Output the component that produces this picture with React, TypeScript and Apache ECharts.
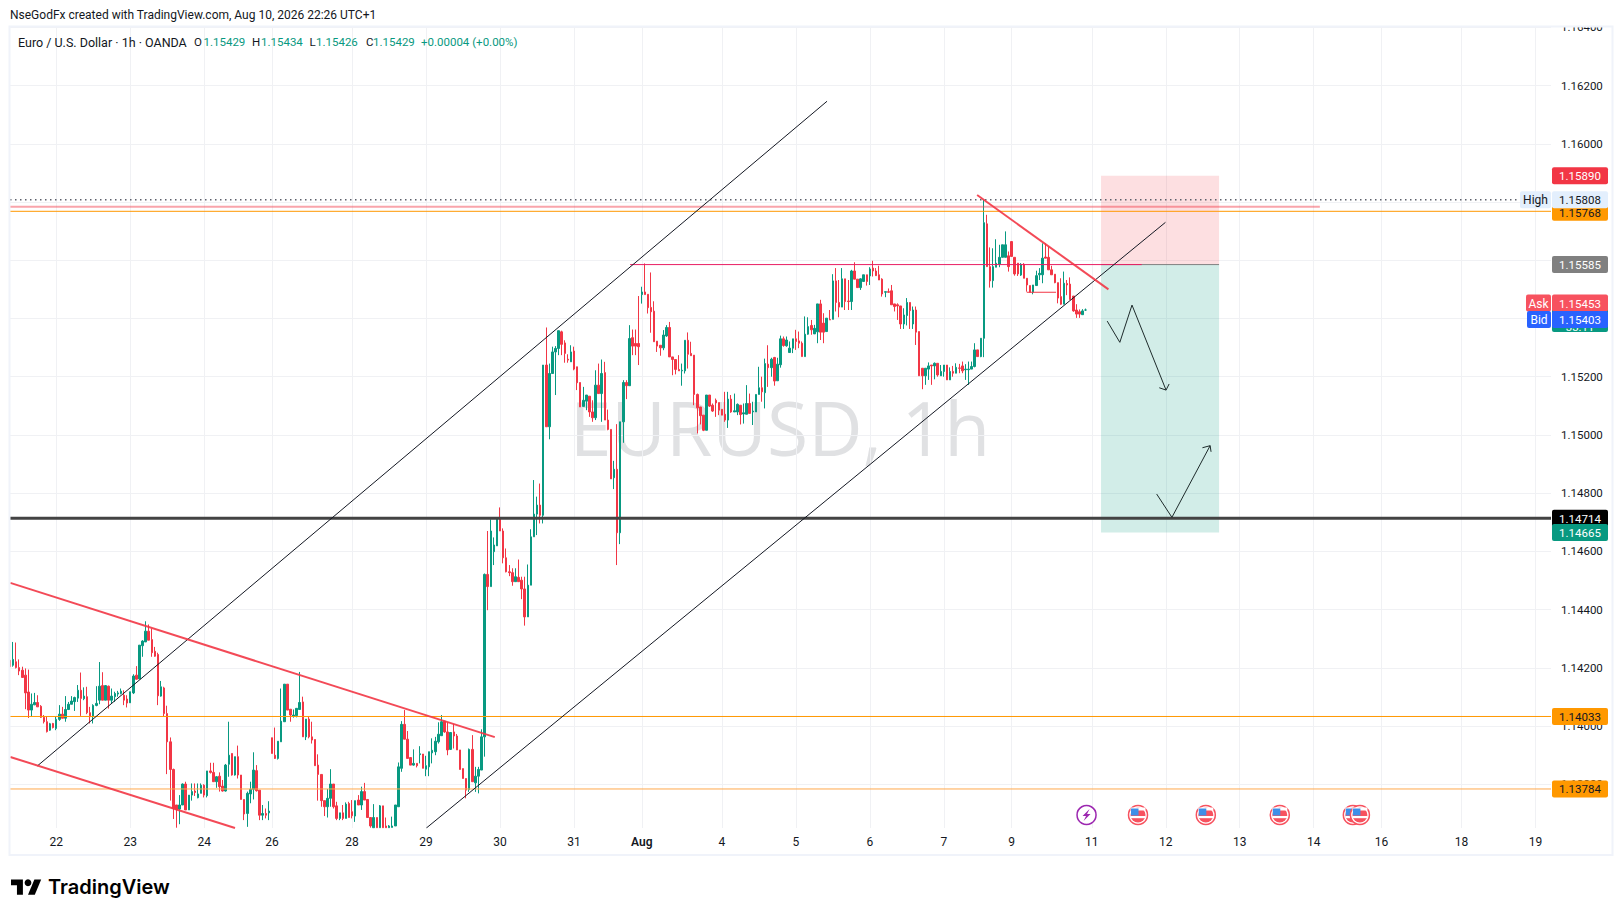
import React, { useEffect, useRef } from "react";
import * as echarts from "echarts";

const headerText = "NseGodFx created with TradingView.com, Aug 10, 2026 22:26 UTC+1";
const legendTitle = "Euro / U.S. Dollar · 1h · OANDA";
const legendItems = [
  { t: "O", x: 194, c: "#131722" }, { t: "1.15429", x: 203.5, c: "#089981" },
  { t: "H", x: 252, c: "#131722" }, { t: "1.15434", x: 261, c: "#089981" },
  { t: "L", x: 309.5, c: "#131722" }, { t: "1.15426", x: 316, c: "#089981" },
  { t: "C", x: 366, c: "#131722" }, { t: "1.15429", x: 373, c: "#089981" },
  { t: "+0.00004 (+0.00%)", x: 421, c: "#089981" },
];
const tickIndexes = [15, 39, 63, 85, 111, 135, 159, 183, 205, 231, 255, 279, 303, 325, 351, 375, 399, 423, 445, 471, 495];
const tickLabels = ["22", "23", "24", "26", "28", "29", "30", "31", "Aug", "4", "5", "6", "7", "9", "11", "12", "13", "14", "16", "18", "19"];
const priceTicks = [1.138, 1.14, 1.142, 1.144, 1.146, 1.148, 1.15, 1.152, 1.154, 1.156, 1.158, 1.16, 1.162, 1.164];

// open, high, low, close of each hourly candle
const candles = [
[1.14226,1.14263,1.14183,1.14204],[1.14209,1.14289,1.14204,1.14229],[1.14221,1.14287,1.14198,1.14201],[1.14201,1.14229,1.14175,1.14189],
[1.14192,1.14204,1.14167,1.14167],[1.14175,1.14198,1.14058,1.14114],[1.14117,1.14194,1.14028,1.14055],[1.14055,1.14112,1.14032,1.14075],
[1.14073,1.14114,1.14072,1.14081],[1.14081,1.14106,1.14066,1.14066],[1.14068,1.14072,1.14028,1.1403],[1.1403,1.14038,1.14009,1.14015],
[1.14015,1.14034,1.13978,1.13981],[1.13986,1.14011,1.13984,1.14008],[1.14009,1.14011,1.13992,1.13995],[1.13992,1.14032,1.13986,1.14023],
[1.14023,1.14072,1.14018,1.14041],[1.14041,1.14066,1.14027,1.14027],[1.14027,1.14103,1.14015,1.14057],[1.14057,1.14083,1.14055,1.14075],
[1.14075,1.14103,1.14075,1.14086],[1.14084,1.14101,1.14052,1.14098],[1.14096,1.14141,1.14083,1.14123],[1.14123,1.14184,1.14035,1.14095],
[1.14094,1.14133,1.14089,1.14103],[1.14101,1.14135,1.14041,1.14046],[1.14046,1.14066,1.14009,1.14032],[1.14032,1.14075,1.14009,1.14071],
[1.14071,1.14137,1.14068,1.14078],[1.14089,1.1422,1.14075,1.14137],[1.14139,1.14185,1.14089,1.14089],[1.14089,1.14141,1.14089,1.14139],
[1.14137,1.14139,1.1406,1.14089],[1.14089,1.14129,1.14078,1.14103],[1.14101,1.14118,1.14083,1.14112],[1.1411,1.14121,1.14101,1.14114],
[1.14112,1.14129,1.14109,1.1412],[1.14106,1.14123,1.14072,1.14089],[1.14093,1.14106,1.14064,1.14079],[1.1408,1.14118,1.1408,1.14118],
[1.14114,1.14178,1.1411,1.14172],[1.14175,1.14206,1.1416,1.14161],[1.14162,1.14278,1.14162,1.14278],[1.14276,1.14295,1.14238,1.14292],
[1.14289,1.1436,1.14289,1.14326],[1.14326,1.14349,1.14295,1.14295],[1.14297,1.14335,1.14238,1.14252],[1.14257,1.14272,1.14238,1.1424],
[1.14246,1.14252,1.14072,1.14104],[1.14103,1.14155,1.14101,1.14135],[1.14131,1.14135,1.14032,1.14043],[1.14043,1.1407,1.13835,1.13946],
[1.13946,1.13961,1.13744,1.13851],[1.13851,1.13854,1.13681,1.13717],[1.13729,1.13729,1.13651,1.13714],[1.13715,1.13763,1.13663,1.13729],
[1.13729,1.13803,1.13729,1.13801],[1.13801,1.13809,1.13712,1.13712],[1.13712,1.13763,1.13712,1.13763],[1.13763,1.13803,1.13744,1.13775],
[1.13777,1.13803,1.1376,1.13772],[1.13754,1.13803,1.13752,1.13767],[1.13769,1.13803,1.13769,1.13797],[1.13797,1.1380,1.13755,1.13763],
[1.13761,1.13846,1.13755,1.13846],[1.13846,1.13874,1.13837,1.13841],[1.13841,1.13874,1.13808,1.13809],[1.13809,1.13828,1.13788,1.13826],
[1.13828,1.13841,1.13775,1.13792],[1.13794,1.13815,1.13775,1.13777],[1.13777,1.1387,1.13775,1.13866],[1.13869,1.14015,1.13826,1.139],
[1.13906,1.13906,1.1383,1.13832],[1.13832,1.13895,1.1383,1.13895],[1.13895,1.13933,1.1382,1.13832],[1.13832,1.13832,1.13748,1.13748],
[1.13748,1.13748,1.13677,1.13698],[1.137,1.13775,1.13654,1.13769],[1.13767,1.13809,1.13735,1.13783],[1.13783,1.1391,1.13748,1.13849],
[1.13847,1.13866,1.13775,1.13778],[1.1378,1.1378,1.13677,1.13694],[1.13694,1.13729,1.13677,1.137],[1.137,1.13717,1.13683,1.13694],
[1.13702,1.13742,1.13677,1.13708],[1.1396,1.1396,1.13906,1.13906],[1.139,1.13995,1.13887,1.13889],[1.13889,1.13948,1.13885,1.13948],
[1.13946,1.14129,1.13946,1.14017],[1.14015,1.14144,1.14015,1.14144],[1.14144,1.14144,1.14055,1.14055],[1.14058,1.14058,1.14015,1.14038],
[1.14034,1.14057,1.14029,1.14038],[1.14036,1.14061,1.1403,1.14061],[1.14057,1.14186,1.14057,1.14081],[1.14083,1.14101,1.13963,1.13963],
[1.13963,1.14024,1.13952,1.14024],[1.14024,1.14032,1.13958,1.13963],[1.13963,1.14015,1.1394,1.13952],[1.13954,1.13954,1.13864,1.13864],
[1.13866,1.13903,1.13744,1.13834],[1.13834,1.13834,1.13723,1.13744],[1.13744,1.13744,1.13691,1.13723],[1.13723,1.13784,1.13686,1.13752],
[1.13752,1.13852,1.13723,1.13801],[1.13801,1.13801,1.13717,1.13723],[1.13726,1.1374,1.13677,1.13683],[1.13683,1.13702,1.13677,1.13702],
[1.13702,1.13729,1.13677,1.13683],[1.13683,1.13738,1.13683,1.13732],[1.13734,1.1374,1.13686,1.13686],[1.13706,1.13746,1.13683,1.13692],
[1.13691,1.13744,1.13671,1.13744],[1.13746,1.13763,1.13729,1.13729],[1.13729,1.13792,1.13712,1.13775],[1.13775,1.13805,1.13746,1.13746],
[1.13748,1.13748,1.13686,1.13686],[1.13686,1.13686,1.13651,1.13657],[1.13651,1.13732,1.13651,1.13686],[1.13686,1.13686,1.13651,1.13651],
[1.13651,1.13729,1.13651,1.13726],[1.13726,1.13726,1.13651,1.13651],[1.13657,1.13686,1.13651,1.13651],[1.13651,1.1366,1.13651,1.13657],
[1.13652,1.13689,1.13652,1.13657],[1.13657,1.13729,1.13657,1.13729],[1.13723,1.13875,1.13723,1.1386],[1.13855,1.14017,1.13843,1.14006],
[1.14006,1.14055,1.13955,1.13955],[1.13955,1.13983,1.13889,1.13889],[1.13892,1.13892,1.13866,1.13866],[1.13866,1.1392,1.13864,1.13872],
[1.13872,1.13872,1.13858,1.13864],[1.13902,1.13931,1.13872,1.13905],[1.13904,1.13904,1.13855,1.13855],[1.13852,1.13898,1.13828,1.13864],
[1.1386,1.13912,1.13828,1.13912],[1.13908,1.13958,1.13872,1.13917],[1.13912,1.13963,1.139,1.13948],[1.13946,1.14013,1.1394,1.13972],
[1.13967,1.14038,1.13967,1.14015],[1.14017,1.14018,1.13977,1.1398],[1.1398,1.14013,1.139,1.13918],[1.1392,1.13978,1.13918,1.13978],
[1.1398,1.14007,1.13923,1.13966],[1.13966,1.13973,1.13918,1.13918],[1.13918,1.13918,1.13851,1.13851],[1.13854,1.13854,1.1382,1.1382],
[1.1382,1.1382,1.13752,1.1378],[1.13782,1.13923,1.13774,1.1392],[1.1392,1.13969,1.13809,1.13809],[1.13805,1.1386,1.13774,1.13828],
[1.13828,1.1386,1.13769,1.13851],[1.13849,1.13989,1.13849,1.13963],[1.13963,1.14524,1.13895,1.14521],[1.14521,1.1467,1.14398,1.14479],
[1.14479,1.1471,1.14479,1.1467],[1.14599,1.14648,1.14553,1.14622],[1.14619,1.14716,1.14619,1.14716],[1.14716,1.14751,1.1467,1.1467],
[1.1467,1.14679,1.14559,1.14578],[1.14578,1.1461,1.14528,1.1453],[1.1453,1.14553,1.14515,1.14527],[1.14527,1.14542,1.14482,1.14496],
[1.14496,1.14542,1.14496,1.14513],[1.14511,1.14572,1.14496,1.14496],[1.14501,1.14513,1.14436,1.14471],[1.14471,1.14513,1.14345,1.14375],
[1.14375,1.14555,1.14375,1.14484],[1.14484,1.14676,1.14484,1.1465],[1.1465,1.14845,1.1465,1.14728],[1.14728,1.14788,1.14656,1.14759],
[1.14759,1.14833,1.14696,1.14724],[1.14724,1.1524,1.14696,1.1524],[1.1524,1.15369,1.15028,1.15028],[1.15028,1.15245,1.14985,1.15211],
[1.15211,1.15303,1.15211,1.15285],[1.15285,1.15305,1.15137,1.15297],[1.15297,1.15358,1.15274,1.15358],[1.15354,1.15358,1.15274,1.15311],
[1.15316,1.15325,1.15248,1.1528],[1.1526,1.15277,1.15248,1.15257],[1.15251,1.15308,1.15251,1.15285],[1.15288,1.15303,1.15222,1.15226],
[1.15234,1.15234,1.15154,1.15179],[1.1518,1.1518,1.15096,1.15096],[1.15098,1.15165,1.15098,1.15119],[1.15116,1.15137,1.15085,1.15137],
[1.15133,1.15133,1.15062,1.15079],[1.15079,1.15119,1.15045,1.15059],[1.15059,1.15222,1.15051,1.15171],[1.15171,1.15245,1.15142,1.15142],
[1.15142,1.15259,1.15045,1.15211],[1.15214,1.15251,1.15051,1.15051],[1.15051,1.15087,1.15016,1.15019],[1.15019,1.15019,1.14849,1.14849],
[1.14853,1.14911,1.14814,1.14882],[1.14882,1.15037,1.14553,1.14664],[1.14664,1.15045,1.14625,1.15045],[1.15045,1.15188,1.14973,1.1518],
[1.1518,1.15188,1.15123,1.15169],[1.15169,1.15377,1.15169,1.15331],[1.15334,1.15362,1.15274,1.15305],[1.15314,1.15362,1.15274,1.15305],
[1.15314,1.15477,1.1524,1.15303],[1.15482,1.15509,1.15451,1.15491],[1.15491,1.15589,1.15482,1.15482],[1.15483,1.15483,1.15417,1.15437],
[1.15438,1.15558,1.15351,1.15423],[1.15425,1.15459,1.1532,1.1532],[1.15322,1.15322,1.15285,1.15305],[1.15308,1.15308,1.15272,1.15299],
[1.15299,1.1536,1.15291,1.15343],[1.1534,1.15377,1.15337,1.15369],[1.15369,1.15388,1.15268,1.15268],[1.15268,1.15268,1.15205,1.15259],
[1.15259,1.15259,1.15208,1.15225],[1.15225,1.15274,1.1522,1.1522],[1.1522,1.15245,1.15169,1.15222],[1.1522,1.15325,1.15211,1.15325],
[1.15325,1.15352,1.15228,1.15277],[1.1528,1.1532,1.15272,1.15272],[1.15274,1.15274,1.15102,1.15139],[1.15139,1.15142,1.15005,1.15093],
[1.15096,1.15096,1.15036,1.15066],[1.15068,1.15068,1.15013,1.15016],[1.15016,1.15137,1.15016,1.15137],[1.15137,1.15137,1.15096,1.15099],
[1.15102,1.15108,1.15079,1.15082],[1.15119,1.15125,1.15062,1.1511],[1.15111,1.15111,1.15068,1.15085],[1.15088,1.15088,1.15068,1.15068],
[1.15071,1.15148,1.15045,1.15051],[1.15051,1.15148,1.15024,1.15123],[1.15123,1.15137,1.15076,1.15079],[1.15079,1.15142,1.15079,1.15083],
[1.15079,1.15108,1.15068,1.15105],[1.15102,1.15102,1.15036,1.1507],[1.15072,1.15108,1.15039,1.15076],[1.15071,1.15171,1.15071,1.15108],
[1.15108,1.15142,1.15074,1.15074],[1.15079,1.15114,1.15034,1.15082],[1.15079,1.15139,1.15079,1.15139],[1.15139,1.15234,1.15139,1.15162],
[1.15162,1.152,1.15114,1.15148],[1.15145,1.15262,1.15091,1.15245],[1.15243,1.15308,1.15165,1.15231],[1.15231,1.15265,1.152,1.1526],
[1.15266,1.15268,1.15169,1.15185],[1.15186,1.15265,1.15186,1.15243],[1.15241,1.15341,1.15231,1.1533],[1.1533,1.15338,1.15303,1.15307],
[1.15306,1.15338,1.15303,1.15326],[1.15283,1.15321,1.15283,1.15298],[1.15298,1.1533,1.15281,1.1533],[1.1533,1.15361,1.15292,1.15321],
[1.15323,1.15355,1.15298,1.15315],[1.15315,1.15321,1.15269,1.15269],[1.15269,1.15407,1.15269,1.15346],[1.15346,1.15404,1.15344,1.15372],
[1.15376,1.15395,1.15344,1.15361],[1.15347,1.15378,1.15347,1.15366],[1.15354,1.1545,1.15315,1.1545],[1.1545,1.15464,1.15326,1.15353],
[1.15384,1.15418,1.15315,1.15353],[1.15355,1.15401,1.15355,1.15401],[1.15396,1.15429,1.15395,1.15395],[1.15397,1.15552,1.15397,1.15529],
[1.15529,1.15573,1.15424,1.15455],[1.15455,1.15532,1.15404,1.15439],[1.15439,1.15573,1.15439,1.15536],[1.15536,1.15536,1.15429,1.15458],
[1.1546,1.15532,1.15429,1.15458],[1.15458,1.15567,1.15429,1.15563],[1.15563,1.15593,1.15535,1.15535],[1.15535,1.15535,1.15506,1.15506],
[1.15506,1.15538,1.15498,1.15536],[1.15527,1.1555,1.15527,1.1555],[1.1555,1.1555,1.15513,1.15527],[1.15546,1.15576,1.15515,1.1557],
[1.15573,1.15598,1.15544,1.15563],[1.15563,1.15573,1.15546,1.15547],[1.1555,1.15581,1.15532,1.15532],[1.15535,1.15538,1.15475,1.15484],
[1.1549,1.15492,1.15473,1.15492],[1.15492,1.15503,1.15488,1.1549],[1.15495,1.15515,1.15447,1.15447],[1.1545,1.1545,1.15424,1.15441],
[1.15447,1.15452,1.15395,1.15443],[1.15443,1.15443,1.15364,1.15381],[1.15381,1.15435,1.15364,1.15412],[1.1541,1.1547,1.15376,1.15455],
[1.15455,1.15455,1.15364,1.15427],[1.15381,1.15441,1.15364,1.15429],[1.15429,1.15441,1.15309,1.15353],[1.15355,1.15355,1.15203,1.15203],
[1.15229,1.15229,1.15157,1.15203],[1.15203,1.15229,1.15172,1.15229],[1.15226,1.15249,1.15189,1.15237],[1.1524,1.1524,1.15172,1.15237],
[1.15237,1.15249,1.15191,1.15246],[1.15246,1.15246,1.152,1.15206],[1.15203,1.1524,1.15203,1.15218],[1.15218,1.1524,1.152,1.1524],
[1.1524,1.1524,1.15189,1.15189],[1.15189,1.15232,1.15189,1.15218],[1.15218,1.15237,1.152,1.15212],[1.15212,1.15246,1.15212,1.15232],
[1.1523,1.15244,1.15212,1.15229],[1.15237,1.15252,1.15212,1.1522],[1.15224,1.15243,1.15189,1.15226],[1.15224,1.15252,1.15172,1.15226],
[1.15226,1.15252,1.15226,1.15235],[1.15235,1.15315,1.15232,1.15292],[1.15292,1.15292,1.15269,1.15269],[1.15269,1.15332,1.15267,1.15332],
[1.15332,1.15807,1.15267,1.15729],[1.15725,1.15756,1.15578,1.15578],[1.15578,1.15644,1.15506,1.15529],[1.1553,1.15641,1.15506,1.15578],
[1.15576,1.15672,1.15576,1.1559],[1.15587,1.15653,1.15576,1.1561],[1.1561,1.15653,1.1561,1.15653],[1.1561,1.15699,1.1561,1.15653],
[1.15615,1.1563,1.15561,1.15578],[1.15664,1.15666,1.15613,1.15613],[1.1561,1.1561,1.15547,1.15553],[1.1559,1.1559,1.15546,1.15553],
[1.15549,1.1559,1.15546,1.15586],[1.15586,1.1559,1.15538,1.15538],[1.15538,1.15538,1.15492,1.15515],[1.15513,1.15513,1.1549,1.1549],
[1.1549,1.15515,1.15483,1.15515],[1.15513,1.15564,1.15513,1.15547],[1.1555,1.15573,1.15532,1.15555],[1.1555,1.15658,1.15521,1.15607],
[1.15611,1.15658,1.15607,1.15607],[1.1561,1.15647,1.15567,1.15567],[1.15567,1.15581,1.1555,1.1555],[1.15552,1.15552,1.15521,1.15523],
[1.15523,1.15523,1.15452,1.1547],[1.15475,1.15538,1.15447,1.15449],[1.15449,1.15561,1.15449,1.15521],[1.1552,1.15532,1.1548,1.15515],
[1.15518,1.15541,1.15465,1.15465],[1.15477,1.15477,1.15423,1.15426],[1.15429,1.15449,1.15402,1.15415],[1.15423,1.15431,1.15402,1.15415],
[1.15413,1.15432,1.15413,1.15426],[1.15429,1.15434,1.15426,1.15429],
];

// Drawings, in candle index and price
const highLine = [[0, 1.15808], [489.6, 1.15808]];
const pinkZone = [[0, 1.15784], [425, 1.15784]];
const resistance = [[0, 1.15768], [500, 1.15768]];
const entryLine = [[201.2, 1.15585], [367.2, 1.15585]];
const blackLevel = [[0, 1.14714], [500, 1.14714]];
const support1 = [[0, 1.14033], [500, 1.14033]];
const support2 = [[0, 1.13784], [500, 1.13784]];
const channelUpper = [[8.86, 1.13863], [265.1, 1.16146]];
const channelLower = [[135.1, 1.1365], [374.9, 1.1573]];
const wedgeUpper = [[0.1, 1.14492], [157.3, 1.13962]];
const wedgeLower = [[0.1, 1.13894], [73, 1.1365]];
const shortTrend = [[313.8, 1.15824], [356.4, 1.155]];
const smallLevel = [[329.9, 1.1549], [339.4, 1.1549]];
const arrowDown = [[356, 1.15391], [360.1, 1.15318], [364.05, 1.15446], [375.1, 1.15154]];
const arrowDownHead = [[372.9, 1.15162], [375.1, 1.15154], [376.1, 1.15175]];
const arrowUp = [[372.05, 1.14797], [377, 1.14717], [389.4, 1.14963]];
const arrowUpHead = [[386.9, 1.14956], [389.4, 1.14963], [389.7, 1.14942]];
const stopBox = { x0: 354, x1: 392.3, top: 1.1589, bottom: 1.15585 };
const targetBox = { x0: 354, x1: 392.3, top: 1.15585, bottom: 1.14665 };
const eventIndexes = [349.3, 366, 388, 412, 435.7, 438];

const priceTags = [
  { p: 1.13784, t: "1.13784", bg: "#FF9800", fg: "#131722" },
  { p: 1.14033, t: "1.14033", bg: "#FF9800", fg: "#131722" },
  { p: 1.14714, t: "1.14714", bg: "#000000", fg: "#FFFFFF" },
  { p: 1.14665, t: "1.14665", bg: "#089981", fg: "#FFFFFF" },
  { p: 1.15585, t: "1.15585", bg: "#808080", fg: "#FFFFFF" },
  { p: 1.15429, t: "1.15429", bg: "#089981", fg: "#FFFFFF", dy: 5, h: 34, sub: "33:11" },
  { p: 1.15453, t: "1.15453", bg: "#F7525F", fg: "#FFFFFF", side: "Ask", sideW: 25 },
  { p: 1.15403, t: "1.15403", bg: "#2962FF", fg: "#FFFFFF", side: "Bid", sideW: 24, dy: 2 },
  { p: 1.15768, t: "1.15768", bg: "#FF9800", fg: "#131722", dy: 1 },
  { p: 1.15808, t: "1.15808", bg: "#E3EFFD", fg: "#131722", side: "High", sideW: 31 },
  { p: 1.1589, t: "1.15890", bg: "#F23645", fg: "#FFFFFF" },
];

const FONT = "Roboto, sans-serif";
const GRID = { left: 10, top: 27, right: 1551, bottom: 828 };
const Y_MIN = 1.1365;
const Y_MAX = 1.16401;

function lineSeries(name: string, data: number[][], color: string, width: number, type: any = "solid", z = 4) {
  return {
    name, type: "line", xAxisIndex: 1, yAxisIndex: 0, data, showSymbol: false, symbol: "none",
    silent: true, z, lineStyle: { color, width, type, cap: "butt" }, animation: false,
  };
}

function buildOption() {
  const cats = Array.from({ length: 501 }, (_, i) => {
    const k = tickIndexes.indexOf(i);
    return k >= 0 ? tickLabels[k] : "";
  });
  const isTick = (i: number) => tickIndexes.indexOf(i) >= 0;
  const legend: any[] = legendItems.map((it) => ({
    type: "text", x: it.x, y: 42, z: 30,
    style: { text: it.t, fill: it.c, font: `11.5px ${FONT}`, verticalAlign: "middle" },
  }));
  return {
    animation: false,
    backgroundColor: "#FFFFFF",
    grid: { left: GRID.left, top: GRID.top, width: GRID.right - GRID.left, height: GRID.bottom - GRID.top, containLabel: false },
    xAxis: [
      {
        type: "category", data: cats, boundaryGap: false,
        axisLine: { show: false }, axisTick: { show: false },
        axisLabel: {
          interval: (i: number) => isTick(i), margin: 8, color: "#131722", fontFamily: FONT, fontSize: 12,
          hideOverlap: false, showMinLabel: true, showMaxLabel: true,
          formatter: (v: string) => (v === "Aug" ? "{b|Aug}" : v),
          rich: { b: { fontFamily: FONT, fontSize: 12, fontWeight: 600, color: "#131722" } },
        },
        splitLine: { show: true, interval: (i: number) => isTick(i), lineStyle: { color: "#F0F1F4", width: 1 } },
      },
      { type: "value", min: 0, max: 500, show: false, splitLine: { show: false } },
    ],
    yAxis: {
      type: "value", position: "right", min: Y_MIN, max: Y_MAX, scale: true,
      axisLine: { show: false },
      axisTick: { show: false, customValues: priceTicks },
      axisLabel: { customValues: priceTicks, margin: 10, color: "#131722", fontFamily: FONT, fontSize: 11.5, formatter: (v: number) => v.toFixed(5) },
      splitLine: { show: true, lineStyle: { color: "#F0F1F4", width: 1 } },
    },
    graphic: [
      { type: "text", x: 780, y: 427, z: 0, silent: true, style: { text: "EURUSD, 1h", fill: "#E0E1E3", font: `75px "Open Sans", sans-serif`, align: "center", verticalAlign: "middle" } },
      { type: "rect", z: 40, shape: { x: 1552, y: 12, width: 60, height: 14 }, style: { fill: "#FFFFFF" } },
      { type: "rect", z: 41, shape: { x: 9.5, y: 26.5, width: 1603, height: 828.5 }, style: { fill: "none", stroke: "#F0F3FA", lineWidth: 2 } },
      { type: "text", x: 10, y: 15, z: 30, style: { text: headerText, fill: "#131722", font: `12px ${FONT}`, verticalAlign: "middle" } },
      { type: "text", x: 18, y: 42, z: 30, style: { text: legendTitle, fill: "#131722", font: `12.5px ${FONT}`, verticalAlign: "middle" } },
      ...legend,
      {
        type: "group", x: 11, y: 876, scaleX: 0.85, scaleY: 0.85, z: 30,
        children: [
          { type: "polygon", shape: { points: [[0, 4], [14, 4], [14, 22], [7, 22], [7, 11], [0, 11]] }, style: { fill: "#000" } },
          { type: "polygon", shape: { points: [[27.5, 4], [35.5, 4], [28, 22], [20, 22]] }, style: { fill: "#000" } },
          { type: "circle", shape: { cx: 20, cy: 8, r: 4 }, style: { fill: "#000" } },
        ],
      },
      { type: "text", x: 48, y: 887, z: 30, style: { text: "TradingView", fill: "#000", font: `600 20px Inter, sans-serif`, verticalAlign: "middle" } },
    ],
    series: [
      {
        name: "EURUSD", type: "candlestick", xAxisIndex: 0, yAxisIndex: 0, z: 3, barWidth: 2, silent: true,
        data: candles.map((r) => [r[0], r[3], r[2], r[1]]),
        itemStyle: { color: "#089981", color0: "#F23645", borderColor: "#089981", borderColor0: "#F23645", borderWidth: 1 },
      },
      {
        name: "Position", type: "line", xAxisIndex: 1, yAxisIndex: 0, data: [], z: 1, silent: true,
        markArea: {
          silent: true,
          data: [
            [{ coord: [stopBox.x0, stopBox.top], itemStyle: { color: "rgba(242,54,69,0.16)" } }, { coord: [stopBox.x1, stopBox.bottom] }],
            [{ coord: [targetBox.x0, targetBox.top], itemStyle: { color: "rgba(8,153,129,0.18)" } }, { coord: [targetBox.x1, targetBox.bottom] }],
          ],
        },
      },
      lineSeries("High", highLine, "#5D606B", 1.5, [1.5, 3.5]),
      lineSeries("Zone", pinkZone, "rgba(242,54,69,0.45)", 2),
      lineSeries("Resistance", resistance, "#FF9800", 1),
      lineSeries("Entry stop", [[stopBox.x0, stopBox.bottom], [stopBox.x1, stopBox.bottom]], "#808080", 1),
      lineSeries("Entry", entryLine, "#E91E63", 1),
      lineSeries("Level", blackLevel, "#434343", 3),
      lineSeries("Support 1", support1, "#FF9800", 1),
      lineSeries("Support 2", support2, "#FFA94D", 1),
      lineSeries("Channel upper", channelUpper, "#131722", 1),
      lineSeries("Channel lower", channelLower, "#131722", 1),
      lineSeries("Wedge upper", wedgeUpper, "rgba(242,54,69,0.9)", 2),
      lineSeries("Wedge lower", wedgeLower, "rgba(242,54,69,0.9)", 2),
      lineSeries("Short trend", shortTrend, "rgba(242,54,69,0.9)", 2),
      lineSeries("Small level", smallLevel, "#F23645", 1),
      lineSeries("Arrow down", arrowDown, "#1E2B2B", 1),
      lineSeries("Arrow down head", arrowDownHead, "#1E2B2B", 1),
      lineSeries("Arrow up", arrowUp, "#1E2B2B", 1),
      lineSeries("Arrow up head", arrowUpHead, "#1E2B2B", 1),
      {
        name: "Events", type: "custom", xAxisIndex: 1, yAxisIndex: 0, z: 6, silent: true, clip: false,
        data: eventIndexes.map((x) => [x, Y_MIN]),
        renderItem: (params: any, api: any) => {
          const pos = api.coord([api.value(0), Y_MIN]);
          const cx = pos[0];
          const cy = GRID.bottom - 13;
          if (params.dataIndex === 0) {
            return {
              type: "group",
              children: [
                { type: "circle", shape: { cx, cy, r: 9.5 }, style: { fill: "#FFF", stroke: "#9C27B0", lineWidth: 1.5 } },
                { type: "polygon", shape: { points: [[cx + 3, cy - 6], [cx - 4, cy + 1], [cx - 0.5, cy + 1], [cx - 3, cy + 6], [cx + 4, cy - 1], [cx + 0.5, cy - 1]] }, style: { fill: "#9C27B0" } },
              ],
            };
          }
          return {
            type: "group",
            children: [
              { type: "circle", shape: { cx, cy, r: 9.5 }, style: { fill: "#FFF", stroke: "#F7525F", lineWidth: 1.5 } },
              { type: "sector", shape: { cx, cy, r0: 0, r: 7.5, startAngle: 0, endAngle: Math.PI, clockwise: true }, style: { fill: "#F7525F" } },
              { type: "rect", shape: { x: cx - 7.5, y: cy + 1, width: 15, height: 2.2 }, style: { fill: "#FFF" } },
              { type: "sector", shape: { cx, cy, r0: 0, r: 7.5, startAngle: Math.PI, endAngle: Math.PI * 2, clockwise: true }, style: { fill: "#F7525F" } },
              { type: "rect", shape: { x: cx - 7.5, y: cy - 7.5, width: 15, height: 3 }, style: { fill: "#FFF" } },
              { type: "rect", shape: { x: cx - 7, y: cy - 6.5, width: 7.5, height: 7 }, style: { fill: "#3E8FE8" } },
            ],
          };
        },
      },
      {
        name: "Price tags", type: "custom", xAxisIndex: 1, yAxisIndex: 0, z: 20, silent: true, clip: false,
        data: priceTags.map((t) => [500, t.p]),
        renderItem: (params: any, api: any) => {
          const tag: any = priceTags[params.dataIndex];
          const y = api.coord([500, tag.p])[1] + (tag.dy || 0);
          const h = tag.h || 17;
          const children: any[] = [
            { type: "rect", shape: { x: 1552, y: y - h / 2, width: 56, height: h, r: 2 }, style: { fill: tag.bg } },
            { type: "text", style: { text: tag.t, x: 1580, y: tag.h ? y - 5 : y + 0.5, fill: tag.fg, fontFamily: FONT, fontSize: 11.5, align: "center", verticalAlign: "middle" } },
          ];
          if (tag.sub) {
            children.push({ type: "text", style: { text: tag.sub, x: 1580, y: y + h / 2 - 5, fill: tag.fg, fontFamily: FONT, fontSize: 11.5, align: "center", verticalAlign: "middle" } });
          }
          if (tag.side) {
            children.push({ type: "rect", shape: { x: 1551 - tag.sideW, y: y - h / 2, width: tag.sideW, height: h, r: 2 }, style: { fill: tag.bg } });
            children.push({ type: "text", style: { text: tag.side, x: 1551 - tag.sideW / 2, y: y + 0.5, fill: tag.fg, fontFamily: FONT, fontSize: 12, align: "center", verticalAlign: "middle" } });
          }
          return { type: "group", children };
        },
      },
    ],
  };
}

export default function App() {
  const ref = useRef<HTMLDivElement>(null);
  useEffect(() => {
    const chart = echarts.init(ref.current as HTMLDivElement, undefined, { renderer: "svg" });
    chart.setOption(buildOption() as any);
    return () => chart.dispose();
  }, []);
  return <div ref={ref} style={{ position: "absolute", left: 0, top: 0, width: 1623, height: 916 }} />;
}
